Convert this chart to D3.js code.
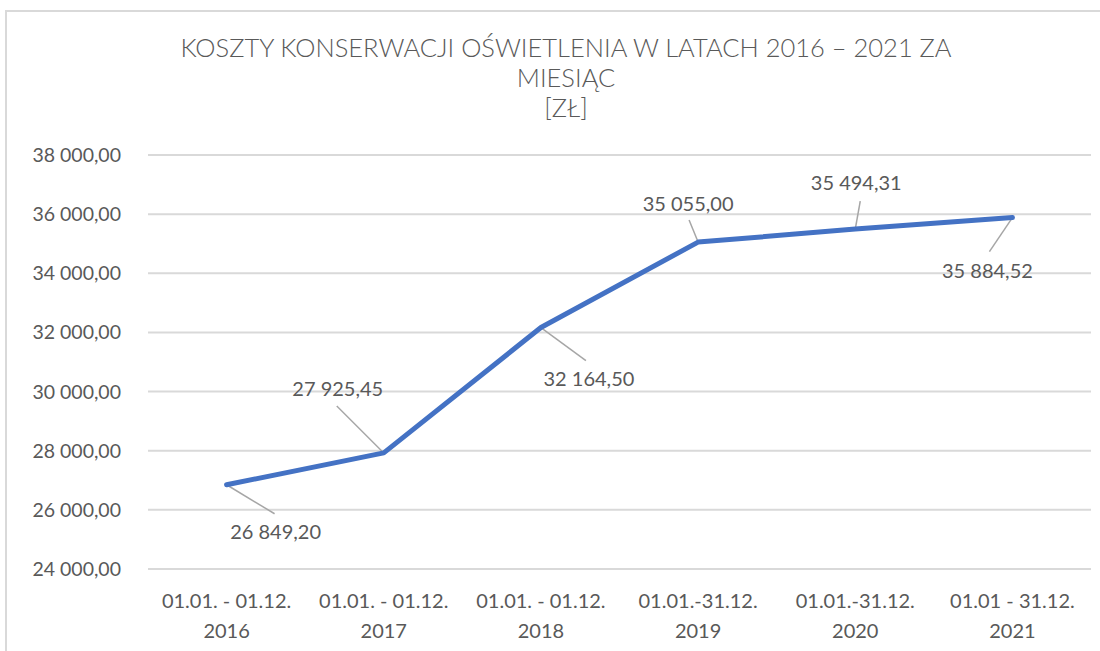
<!DOCTYPE html>
<html lang="pl">
<head>
<meta charset="UTF-8">
<script src="https://d3js.org/d3.v7.min.js"></script>
<style>
  body { margin: 0; background: #fff; }
  svg { display: block; }
  .grid line { stroke: #d9d9d9; stroke-width: 2; }
  .tick-label { fill: #595959; font-family: Lato, "Open Sans", sans-serif; font-size: 19.5px; }
  .x-label { font-size: 20px; }
  .data-label { font-size: 20px; }
</style>
</head>
<body>
<svg id="chart" width="1100" height="651"></svg>
<script>
  // dane
  const periods = ['01.01. - 01.12.', '01.01. - 01.12.', '01.01. - 01.12.', '01.01.-31.12.', '01.01.-31.12.', '01.01 - 31.12.'];
  const years = ['2016', '2017', '2018', '2019', '2020', '2021'];
  const costs = [26849.20, 27925.45, 32164.50, 35055.00, 35494.31, 35884.52];
  const yTicks = [24000, 26000, 28000, 30000, 32000, 34000, 36000, 38000];
  const titleLines = ['KOSZTY KONSERWACJI OŚWIETLENIA W LATACH 2016 – 2021 ZA', 'MIESIĄC', '[ZŁ]'];

  // przesunięcia etykiet danych (środek etykiety i koniec linii odniesienia)
  const labelShift = [[49, 47], [-46, -64], [48, 51], [-10, -38], [1, -46], [-25, 53]];
  const leaderEnd = [[48, 29], [-47, -47], [45, 33], [-9, -22], [5, -28], [-23, 34]];

  const svg = d3.select('#chart');
  const plotLeft = 148, plotRight = 1091, plotTop = 155, plotBottom = 569;

  const fmt = v => {
    let s = d3.format(',.2f')(v);
    return s.replace(/,/g, ' ').replace('.', ',');
  };

  // ramka
  svg.append('path')
    .attr('d', 'M6,651 L6,11 L1100,11')
    .attr('fill', 'none')
    .attr('stroke', '#d9d9d9')
    .attr('stroke-width', 2);

  const x = d3.scaleBand().domain(d3.range(costs.length)).range([plotLeft, plotRight]);
  const y = d3.scaleLinear().domain([24000, 38000]).range([plotBottom, plotTop]);

  // siatka
  svg.append('g').attr('class', 'grid')
    .selectAll('line').data(yTicks).join('line')
    .attr('x1', plotLeft).attr('x2', plotRight)
    .attr('y1', d => y(d)).attr('y2', d => y(d));

  // oś Y
  svg.append('g').selectAll('text').data(yTicks).join('text')
    .attr('class', 'tick-label')
    .attr('x', 121).attr('y', d => y(d) + 7)
    .attr('text-anchor', 'end')
    .text(d => fmt(d));

  // oś X
  const xl = svg.append('g').selectAll('text').data(periods).join('text')
    .attr('class', 'tick-label x-label')
    .attr('text-anchor', 'middle')
    .attr('x', (d, i) => x(i) + x.bandwidth() / 2)
    .attr('y', 608);
  xl.append('tspan').text(d => d);
  xl.append('tspan')
    .attr('x', (d, i) => x(i) + x.bandwidth() / 2)
    .attr('dy', 30)
    .text((d, i) => years[i]);

  // tytuł
  svg.append('g').selectAll('text').data(titleLines).join('text')
    .attr('x', 566)
    .attr('y', (d, i) => 57 + i * 30)
    .attr('text-anchor', 'middle')
    .attr('fill', '#595959')
    .attr('font-family', 'Lato, sans-serif')
    .attr('font-weight', 300)
    .attr('font-size', 25.5)
    .text(d => d);

  const px = i => x(i) + x.bandwidth() / 2;

  // linie odniesienia
  svg.append('g').selectAll('line').data(costs).join('line')
    .attr('x1', (d, i) => px(i)).attr('y1', d => y(d))
    .attr('x2', (d, i) => px(i) + leaderEnd[i][0])
    .attr('y2', (d, i) => y(d) + leaderEnd[i][1])
    .attr('stroke', '#a6a6a6')
    .attr('stroke-width', 1.5);

  // linia danych
  const line = d3.line().x((d, i) => px(i)).y(d => y(d));
  svg.append('path')
    .datum(costs)
    .attr('d', line)
    .attr('fill', 'none')
    .attr('stroke', '#4472c4')
    .attr('stroke-width', 5)
    .attr('stroke-linejoin', 'round')
    .attr('stroke-linecap', 'round');

  // etykiety danych
  svg.append('g').selectAll('text').data(costs).join('text')
    .attr('class', 'tick-label data-label')
    .attr('text-anchor', 'middle')
    .attr('x', (d, i) => px(i) + labelShift[i][0])
    .attr('y', (d, i) => y(d) + labelShift[i][1] + 7)
    .text(d => fmt(d));
</script>
</body>
</html>
